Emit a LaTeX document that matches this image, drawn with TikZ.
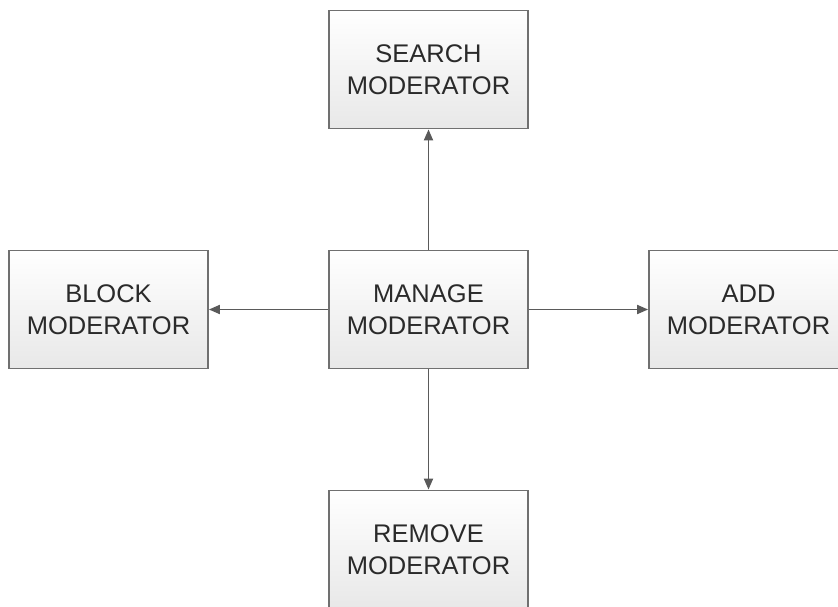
\documentclass[tikz,border=0pt]{standalone}
\usepackage{fontspec}
\setmainfont{Liberation Sans}
\usetikzlibrary{arrows.meta}
\definecolor{boxline}{HTML}{707070}
\definecolor{arrowline}{HTML}{5A5A5A}
\definecolor{boxbottom}{HTML}{E8E8E8}
\definecolor{txt}{HTML}{2A2A2A}
\begin{document}
\begin{tikzpicture}[x=1pt,y=-1pt,
  modbox/.style={draw=boxline, line width=1.8pt, top color=white, bottom color=boxbottom,
    minimum width=199pt, minimum height=118pt, inner sep=0pt, align=center,
    text=txt, font=\fontsize{25.5}{32}\selectfont},
  conn/.style={draw=arrowline, line width=1.8pt, -{Triangle[length=11pt,width=9pt]}}]
\useasboundingbox (0,0) rectangle (838,607);
\fill[white] (0,0) rectangle (838,607);
\node[modbox] (search) at (428.5,69.5) {SEARCH\\MODERATOR};
\node[modbox] (manage) at (428.5,309.5) {MANAGE\\MODERATOR};
\node[modbox] (block) at (108.5,309.5) {BLOCK\\MODERATOR};
\node[modbox] (add) at (748.5,309.5) {ADD\\MODERATOR};
\node[modbox] (remove) at (428.5,549.5) {REMOVE\\MODERATOR};
\draw[conn] (manage) -- (search);
\draw[conn] (manage) -- (block);
\draw[conn] (manage) -- (add);
\draw[conn] (manage) -- (remove);
\end{tikzpicture}
\end{document}
